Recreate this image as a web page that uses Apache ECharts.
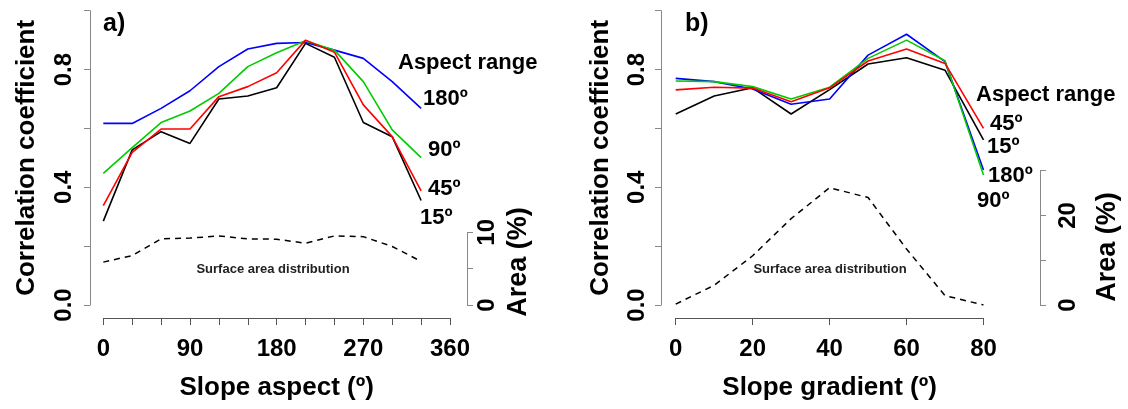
<!DOCTYPE html>
<html>
<head>
<meta charset="utf-8">
<script src="https://cdn.jsdelivr.net/npm/echarts@6/dist/echarts.min.js"></script>
<style>
html,body{margin:0;padding:0;background:#fff;}
#chart{width:1128px;height:409px;}
</style>
</head>
<body>
<div id="chart"></div>
<script>
// ---- Data ----
const aspectX = [0, 30, 60, 90, 120, 150, 180, 210, 240, 270, 300, 330];
const aspect15  = [0.285, 0.527, 0.589, 0.549, 0.700, 0.710, 0.738, 0.889, 0.842, 0.620, 0.572, 0.355];
const aspect45  = [0.338, 0.519, 0.598, 0.598, 0.708, 0.742, 0.789, 0.900, 0.859, 0.680, 0.572, 0.388];
const aspect90  = [0.447, 0.535, 0.620, 0.659, 0.719, 0.810, 0.857, 0.898, 0.866, 0.759, 0.595, 0.501];
const aspect180 = [0.617, 0.617, 0.668, 0.728, 0.810, 0.870, 0.889, 0.892, 0.866, 0.838, 0.759, 0.668];
const aspectArea = [5.9, 6.8, 9.1, 9.2, 9.5, 9.1, 9.05, 8.5, 9.5, 9.4, 8.05, 6.0];

const gradX = [0, 10, 20, 30, 40, 50, 60, 70, 80];
const grad15  = [0.649, 0.710, 0.738, 0.649, 0.732, 0.819, 0.840, 0.798, 0.561];
const grad45  = [0.731, 0.740, 0.737, 0.691, 0.738, 0.829, 0.870, 0.821, 0.600];
const grad90  = [0.761, 0.759, 0.742, 0.700, 0.740, 0.838, 0.900, 0.830, 0.442];
const grad180 = [0.770, 0.759, 0.734, 0.682, 0.700, 0.849, 0.920, 0.827, 0.459];
const gradArea = [0.2, 4.4, 11.0, 19.3, 26.2, 24.0, 12.5, 2.1, 0.0];

const aspectTickLabels = [0, 90, 180, 270, 360];
const gradTickLabels = [0, 20, 40, 60, 80];
const corrTickLabels = ['0.0', '0.4', '0.8'];
const areaTickLabelsA = ['0', '10'];
const areaTickLabelsB = ['0', '20'];

// ---- Helpers ----
const FF = '"Liberation Sans", Arial, Helvetica, sans-serif';
const zip = (xs, ys) => xs.map((x, i) => [x, ys[i]]);
const corrFmt = v => { const s = v.toFixed(1); return corrTickLabels.includes(s) ? s : ''; };
const lineStyleOf = c => ({ color: c, width: 1.6 });

function corrLine(name, xs, ys, color, idx) {
  return { name, type: 'line', xAxisIndex: idx, yAxisIndex: idx, data: zip(xs, ys),
    showSymbol: false, symbol: 'none', lineStyle: lineStyleOf(color), itemStyle: { color },
    animation: false, silent: true, z: 3 };
}
function areaLine(xs, ys, idx) {
  return { type: 'line', xAxisIndex: idx, yAxisIndex: idx, data: zip(xs, ys),
    showSymbol: false, symbol: 'none',
    lineStyle: { color: '#000', width: 1.5, type: [6, 5] }, animation: false, silent: true };
}
const tickLabelStyle = { color: '#000', fontSize: 24, fontWeight: 'bold', fontFamily: FF };
const titleStyle = { color: '#000', fontSize: 26, fontWeight: 'bold', fontFamily: FF };

const xMainAxis = (grid, max, interval, labels, name) => ({
  type: 'value', gridIndex: grid, min: 0, max, interval, offset: 13,
  axisLine: { show: true, onZero: false, lineStyle: { color: '#555', width: 1 } },
  axisTick: { show: true, length: 7, lineStyle: { color: '#555' } },
  splitLine: { show: false },
  axisLabel: Object.assign({ margin: 19, formatter: v => labels.includes(v) ? String(v) : '' }, tickLabelStyle),
  name, nameLocation: 'middle', nameGap: 57, nameTextStyle: titleStyle
});
const xHidden = (grid, max) => ({ type: 'value', gridIndex: grid, min: 0, max, show: false,
  axisLine: { onZero: false } });
const yMainAxis = (grid, offset, margin, gap) => ({
  type: 'value', gridIndex: grid, min: 0, max: 1, interval: 0.2, offset,
  axisLine: { show: true, onZero: false, lineStyle: { color: '#888', width: 1 } },
  axisTick: { show: true, length: 6, lineStyle: { color: '#888' } },
  splitLine: { show: false },
  axisLabel: Object.assign({ rotate: 90, margin, formatter: corrFmt }, tickLabelStyle),
  name: 'Correlation coefficient', nameLocation: 'middle', nameGap: gap, nameTextStyle: titleStyle
});
const yAreaAxis = (grid, max, interval, labels, offset, margin) => ({
  type: 'value', gridIndex: grid, position: 'right', min: 0, max, interval, offset,
  axisLine: { show: true, onZero: false, lineStyle: { color: '#888', width: 1 } },
  axisTick: { show: true, length: 6, lineStyle: { color: '#888' } },
  splitLine: { show: false },
  axisLabel: Object.assign({ rotate: 90, margin, formatter: v => labels.includes(String(v)) ? String(v) : '' }, tickLabelStyle)
});

const txt = (text, x, y, size, align) => ({
  type: 'text', x, y, silent: true,
  style: { text, fill: '#000', font: 'bold ' + size + 'px ' + FF,
    textAlign: align || 'left', textVerticalAlign: 'middle', align: align || 'left', verticalAlign: 'middle' }
});
const rtxt = (text, x, y, size) => ({
  type: 'text', x, y, rotation: Math.PI / 2, silent: true,
  style: { text, fill: '#000', font: 'bold ' + size + 'px ' + FF,
    textAlign: 'center', textVerticalAlign: 'middle', align: 'center', verticalAlign: 'middle' }
});
const smallTxt = (text, x, y) => ({
  type: 'text', x, y, silent: true,
  style: { text, fill: '#222', font: 'bold 13px ' + FF, textAlign: 'center', textVerticalAlign: 'middle', align: 'center', verticalAlign: 'middle' }
});

const option = {
  backgroundColor: '#fff',
  animation: false,
  grid: [
    { left: 103.3, right: 678, top: 10.7, bottom: 104 },
    { left: 103.3, right: 678, top: 232.3, bottom: 104 },
    { left: 675.7, right: 144.5, top: 10.7, bottom: 104 },
    { left: 675.7, right: 144.5, top: 170.7, bottom: 104 }
  ],
  xAxis: [
    xMainAxis(0, 360, 30, aspectTickLabels, 'Slope aspect (º)'),
    xHidden(1, 360),
    xMainAxis(2, 80, 20, gradTickLabels, 'Slope gradient (º)'),
    xHidden(3, 80)
  ],
  yAxis: [
    yMainAxis(0, 13.3, 14, 50),
    yAreaAxis(1, 10, 5, areaTickLabelsA, 17, 8),
    yMainAxis(2, 14.7, 12, 47),
    yAreaAxis(3, 30, 10, areaTickLabelsB, 56.5, 16)
  ],
  series: [
    corrLine('15º', aspectX, aspect15, '#000000', 0),
    corrLine('180º', aspectX, aspect180, '#0000ff', 0),
    corrLine('90º', aspectX, aspect90, '#00cc00', 0),
    corrLine('45º', aspectX, aspect45, '#ff0000', 0),
    areaLine(aspectX, aspectArea, 1),
    corrLine('15º', gradX, grad15, '#000000', 2),
    corrLine('180º', gradX, grad180, '#0000ff', 2),
    corrLine('90º', gradX, grad90, '#00cc00', 2),
    corrLine('45º', gradX, grad45, '#ff0000', 2),
    areaLine(gradX, gradArea, 3)
  ],
  graphic: [
    txt('a)', 103, 24, 25),
    txt('b)', 685, 24, 25),
    txt('Aspect range', 398, 63, 22),
    txt('180º', 423, 99, 22),
    txt('90º', 428, 150, 22),
    txt('45º', 428, 189, 22),
    txt('15º', 420, 218, 22),
    txt('Aspect range', 976, 95, 22),
    txt('45º', 990, 124, 22),
    txt('15º', 987, 147, 22),
    txt('180º', 988, 176, 22),
    txt('90º', 977, 201, 22),
    rtxt('Area (%)', 519, 262, 27),
    rtxt('Area (%)', 1108, 247, 27),
    smallTxt('Surface area distribution', 273, 269),
    smallTxt('Surface area distribution', 830, 269)
  ]
};

const chart = echarts.init(document.getElementById('chart'), null, { renderer: 'canvas' });
chart.setOption(option);
</script>
</body>
</html>
